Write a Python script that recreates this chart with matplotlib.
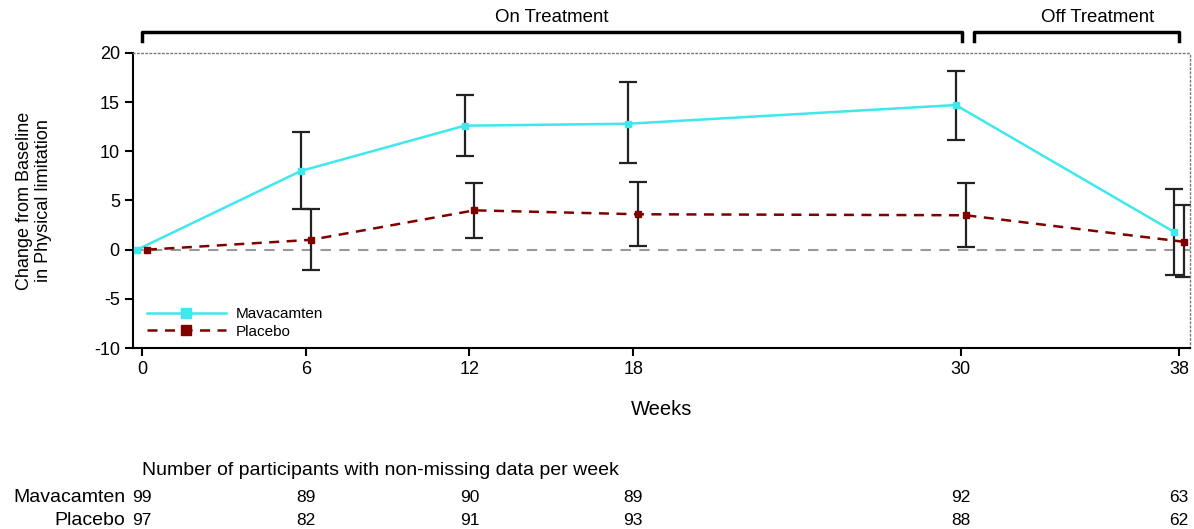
import matplotlib.pyplot as plt
from matplotlib.transforms import blended_transform_factory

plt.rcParams['font.family'] = ['Liberation Sans', 'DejaVu Sans']
plt.rcParams['axes.unicode_minus'] = False

weeks = [0, 6, 12, 18, 30, 38]
mava_mean = [0.0, 8.0, 12.6, 12.8, 14.7, 1.8]
mava_low = [0.0, 4.1, 9.5, 8.8, 11.1, -2.6]
mava_high = [0.0, 12.0, 15.7, 17.0, 18.2, 6.2]
plac_mean = [0.0, 1.0, 4.0, 3.6, 3.5, 0.8]
plac_low = [0.0, -2.1, 1.2, 0.4, 0.3, -2.8]
plac_high = [0.0, 4.1, 6.8, 6.9, 6.8, 4.5]
mava_n = [99, 89, 90, 89, 92, 63]
plac_n = [97, 82, 91, 93, 88, 62]

offset = 0.18
mava_color = '#3ee8ec'
plac_color = '#800000'

fig = plt.figure(figsize=(11.94, 5.29), dpi=100)
ax = fig.add_axes([0.1114, 0.342, 0.8852, 0.558])

xm = [w - offset for w in weeks]
xp = [w + offset for w in weeks]

ax.axhline(0, color='#999999', lw=1.5, ls=(0, (5, 4)), zorder=1)

# error bars (skip baseline)
ax.errorbar(xm[1:], mava_mean[1:],
            yerr=[[m - l for m, l in zip(mava_mean[1:], mava_low[1:])],
                  [h - m for m, h in zip(mava_mean[1:], mava_high[1:])]],
            fmt='none', ecolor='#222222', elinewidth=1.6, capsize=6.5, capthick=1.6, zorder=2)
ax.errorbar(xp[1:], plac_mean[1:],
            yerr=[[m - l for m, l in zip(plac_mean[1:], plac_low[1:])],
                  [h - m for m, h in zip(plac_mean[1:], plac_high[1:])]],
            fmt='none', ecolor='#222222', elinewidth=1.6, capsize=6.5, capthick=1.6, zorder=2)

ax.plot(xm, mava_mean, color=mava_color, lw=1.8, marker='s', ms=5, label='Mavacamten', zorder=3)
ax.plot(xp, plac_mean, color=plac_color, lw=1.8, ls=(0, (4, 3)), marker='s', ms=5,
        label='Placebo', zorder=3)

ax.set_xlim(-0.33, 38.4)
ax.set_ylim(-10, 20)
ax.set_xticks(weeks)
ax.set_yticks([-10, -5, 0, 5, 10, 15, 20])
ax.tick_params(labelsize=13, length=6, width=1.5, direction='out')
for s in ['left', 'bottom']:
    ax.spines[s].set_linewidth(1.5)
for s in ['top', 'right']:
    ax.spines[s].set_linestyle((0, (1, 2)))
    ax.spines[s].set_color('#777777')
    ax.spines[s].set_linewidth(1)

ax.set_xlabel('Weeks', fontsize=14.5, labelpad=16)
ax.set_ylabel('Change from Baseline\nin Physical limitation', fontsize=13, labelpad=30)

ax.legend(loc='lower left', frameon=False, fontsize=11, handlelength=5.2, handletextpad=0.6,
          bbox_to_anchor=(0.0, -0.015), labelspacing=0.25, markerscale=1.3)

# treatment brackets
ax.plot([0, 0, 30.05, 30.05], [21.2, 22.1, 22.1, 21.2], color='black', lw=2.5,
        clip_on=False, solid_joinstyle='round')
ax.plot([30.5, 30.5, 38, 38], [21.2, 22.1, 22.1, 21.2], color='black', lw=2.5,
        clip_on=False, solid_joinstyle='round')
ax.text(15, 23.6, 'On Treatment', ha='center', va='center', fontsize=13.4, clip_on=False)
ax.text(35, 23.6, 'Off Treatment', ha='center', va='center', fontsize=13.4, clip_on=False)

# participants table below the chart
tb = blended_transform_factory(ax.transData, fig.transFigure)
fig.text(0.119, 0.11, 'Number of participants with non-missing data per week', fontsize=14,
         va='center')
fig.text(0.105, 0.059, 'Mavacamten', fontsize=14, ha='right', va='center')
fig.text(0.105, 0.016, 'Placebo', fontsize=14, ha='right', va='center')
for i, w in enumerate(weeks):
    ax.text(w, 0.059, str(mava_n[i]), transform=tb, fontsize=12.5, ha='center', va='center')
    ax.text(w, 0.016, str(plac_n[i]), transform=tb, fontsize=12.5, ha='center', va='center')

fig.savefig('out.png', dpi=100)
